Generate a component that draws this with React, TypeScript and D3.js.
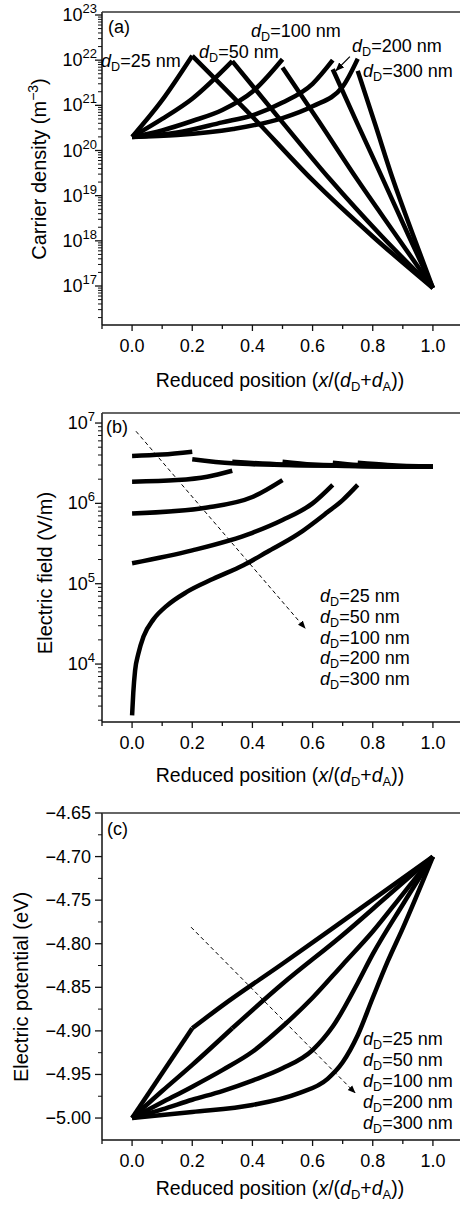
import React from 'react';
import * as d3 from 'd3';

// ---------- shared x axis ----------
const xDomain = [-0.1, 1.1];
const xMajorTicks = [0, 0.2, 0.4, 0.6, 0.8, 1.0];
const xMinorTicks = [-0.1, 0.1, 0.3, 0.5, 0.7, 0.9, 1.1];
const thicknesses = ['25', '50', '100', '200', '300'];

// ---------- (a) carrier density (m^-3) ----------
const densityDomain = [1.37e16, 1.165e23];
const densityDecades = [17, 18, 19, 20, 21, 22, 23];
const densAsc25 = [[0, 2.0e20], [0.1, 1.3e21], [0.2, 1.25e22]];
const densDesc25 = [[0.2, 1.25e22], [0.4, 5.6e20], [0.6, 2.2e19], [0.8, 1.25e18], [1.0, 9e16]];
const densAsc50 = [[0, 2.0e20], [0.1, 5.0e20], [0.2, 1.4e21], [0.333, 9.5e21]];
const densDesc50 = [[0.333, 9.5e21], [0.5, 4.2e20], [0.658, 2.3e19], [0.83, 1.26e18], [1.0, 9e16]];
const densAsc100 = [[0, 2.0e20], [0.1, 2.8e20], [0.2, 4.5e20], [0.3, 7.9e20], [0.4, 2.0e21], [0.5, 1.05e22]];
const densDesc100 = [[0.5, 6.9e21], [0.62, 4.5e20], [0.748, 2.3e19], [0.875, 1.4e18], [1.0, 9e16]];
const densAsc200 = [[0, 2.0e20], [0.15, 2.5e20], [0.3, 4.2e20], [0.4, 6.0e20], [0.5, 1.15e21], [0.6, 3.0e21], [0.667, 1.0e22]];
const densDesc200 = [[0.667, 6.3e21], [0.75, 3.8e20], [0.834, 2.3e19], [0.917, 1.4e18], [1.0, 9e16]];
const densAsc300 = [[0, 2.0e20], [0.15, 2.2e20], [0.336, 3.0e20], [0.5, 5.2e20], [0.6, 9.5e20], [0.7, 2.6e21], [0.75, 1.07e22]];
const densDesc300 = [[0.75, 5.8e21], [0.808, 3.8e20], [0.867, 2.3e19], [0.933, 1.4e18], [1.0, 9e16]];
const densArrow = [[0.724, 1.2e22], [0.678, 5.9e21]];

// ---------- (b) electric field (V/m) ----------
const fieldDomain = [1.9e3, 1.333e7];
const fieldDecades = [4, 5, 6, 7];
const fieldDon25 = [[0, 3.9e6], [0.1, 4.05e6], [0.2, 4.4e6]];
const fieldAcc25 = [[0.2, 3.55e6], [0.333, 3.15e6], [0.5, 3.0e6], [0.667, 2.95e6], [1.0, 2.85e6]];
const fieldDon50 = [[0, 1.86e6], [0.15, 1.95e6], [0.25, 2.15e6], [0.333, 2.55e6]];
const fieldAcc50 = [[0.333, 3.3e6], [0.5, 3.05e6], [1.0, 2.85e6]];
const fieldDon100 = [[0, 7.5e5], [0.25, 8.9e5], [0.4, 1.2e6], [0.5, 1.95e6]];
const fieldAcc100 = [[0.5, 3.3e6], [0.6, 3.05e6], [1.0, 2.85e6]];
const fieldDon200 = [[0, 1.8e5], [0.2, 2.6e5], [0.4, 4.3e5], [0.5, 6.2e5], [0.6, 1.0e6], [0.667, 1.7e6]];
const fieldAcc200 = [[0.667, 3.2e6], [0.75, 3.0e6], [1.0, 2.85e6]];
const fieldDon300 = [[0, 2.3e3], [0.004, 4.4e3], [0.01, 8.3e3], [0.021, 1.35e4], [0.038, 2.2e4], [0.071, 3.6e4], [0.115, 5.3e4], [0.182, 7.9e4], [0.27, 1.15e5], [0.37, 1.7e5], [0.45, 2.5e5], [0.55, 4.1e5], [0.65, 7.8e5], [0.7, 1.1e6], [0.75, 1.7e6]];
const fieldAcc300 = [[0.75, 3.2e6], [0.85, 3.0e6], [1.0, 2.85e6]];
const fieldArrow = [[0.013, 7.9e6], [0.575, 2.8e4]];

// ---------- (c) electric potential (eV) ----------
const potentialDomain = [-5.0252, -4.65];
const potentialTicks = [-4.65, -4.7, -4.75, -4.8, -4.85, -4.9, -4.95, -5.0];
const potentialMinor = [-4.675, -4.725, -4.775, -4.825, -4.875, -4.925, -4.975];
const pot25a = [[0, -5.0], [0.2, -4.897]];
const pot25b = [[0.2, -4.897], [0.3, -4.871], [0.5, -4.823], [0.7, -4.774], [1.0, -4.7]];
const pot50a = [[0, -5.0], [0.1, -4.969], [0.2, -4.939], [0.333, -4.897]];
const pot50b = [[0.333, -4.897], [0.5, -4.846], [0.7, -4.79], [0.85, -4.745], [1.0, -4.7]];
const pot100 = [[0, -5.0], [0.1, -4.982], [0.2, -4.964], [0.3, -4.945], [0.4, -4.924], [0.5, -4.895], [0.6, -4.862], [0.7, -4.824], [0.8, -4.786], [0.9, -4.743], [1.0, -4.7]];
const pot200 = [[0, -5.0], [0.1, -4.99], [0.2, -4.979], [0.3, -4.969], [0.4, -4.957], [0.5, -4.943], [0.6, -4.922], [0.667, -4.895], [0.75, -4.845], [0.8, -4.812], [0.9, -4.755], [1.0, -4.7]];
const pot300 = [[0, -5.0], [0.2, -4.993], [0.4, -4.985], [0.55, -4.972], [0.65, -4.955], [0.7, -4.936], [0.75, -4.905], [0.8, -4.862], [0.85, -4.82], [0.9, -4.782], [1.0, -4.7]];
const potArrow = [[0.196, -4.781], [0.741, -4.971]];

const FONT = "'Liberation Sans', Arial, Helvetica, sans-serif";
const X0 = 102, X1 = 463;

function logMinors(domain: number[]) {
  const out: number[] = [];
  const lo = Math.floor(Math.log10(domain[0]));
  const hi = Math.ceil(Math.log10(domain[1]));
  for (let k = lo; k < hi; k++) {
    for (let m = 2; m <= 9; m++) {
      const v = m * Math.pow(10, k);
      if (v >= domain[0] && v <= domain[1]) out.push(v);
    }
  }
  return out;
}

function DLabel({ x, y, t, size = 18 }: { x: number; y: number; t: string; size?: number }) {
  return (
    <text x={x} y={y} fontSize={size} fontFamily={FONT} fill="#000">
      <tspan fontStyle="italic">d</tspan>
      <tspan fontSize={size * 0.7} dy={4}>D</tspan>
      <tspan dy={-4}>{`=${t} nm`}</tspan>
    </text>
  );
}

function XAxis({ x, yBottom, yTop, titleOffset }: { x: any; yBottom: number; yTop: number; titleOffset: number }) {
  return (
    <g>
      <line x1={X0} x2={X1} y1={yBottom} y2={yBottom} stroke="#111" strokeWidth={1.5} />
      <line x1={X0} x2={X1} y1={yTop} y2={yTop} stroke="#333" strokeWidth={1.5} />
      <line x1={X1} x2={X1} y1={yTop} y2={yBottom} stroke="#333" strokeWidth={1.5} />
      {xMajorTicks.map((t) => (
        <g key={'M' + t}>
          <line x1={x(t)} x2={x(t)} y1={yBottom} y2={yBottom + 6} stroke="#111" strokeWidth={1.3} />
          <text x={x(t)} y={yBottom + 27} textAnchor="middle" fontSize={18} fontFamily={FONT} fill="#000">
            {t.toFixed(1)}
          </text>
        </g>
      ))}
      {xMinorTicks.map((t) => (
        <line key={'m' + t} x1={x(t)} x2={x(t)} y1={yBottom} y2={yBottom + 4} stroke="#111" strokeWidth={1.3} />
      ))}
      <text x={280} y={yBottom + titleOffset} textAnchor="middle" fontSize={19.5} fontFamily={FONT} fill="#000">
        Reduced position (<tspan fontStyle="italic">x</tspan>/(<tspan fontStyle="italic">d</tspan>
        <tspan fontSize={13} dy={4}>D</tspan>
        <tspan dy={-4}>+</tspan>
        <tspan fontStyle="italic">d</tspan>
        <tspan fontSize={13} dy={4}>A</tspan>
        <tspan dy={-4}>))</tspan>
      </text>
    </g>
  );
}

function LeftSpine({ yTop, yBottom }: { yTop: number; yBottom: number }) {
  return <line x1={X0} x2={X0} y1={yTop} y2={yBottom} stroke="#111" strokeWidth={1.5} />;
}

function LogYAxis({ y, decades, domain, labelX }: { y: any; decades: number[]; domain: number[]; labelX: number }) {
  return (
    <g>
      {decades.map((k) => (
        <g key={'d' + k}>
          <line x1={X0 - 7} x2={X0} y1={y(Math.pow(10, k))} y2={y(Math.pow(10, k))} stroke="#111" strokeWidth={1.3} />
          <text x={labelX} y={y(Math.pow(10, k)) + 6} textAnchor="end" fontSize={18} fontFamily={FONT} fill="#000">
            10<tspan fontSize={13} dy={-8}>{k}</tspan>
          </text>
        </g>
      ))}
      {logMinors(domain).map((v, i) => (
        <line key={'n' + i} x1={X0 - 4} x2={X0} y1={y(v)} y2={y(v)} stroke="#111" strokeWidth={1} />
      ))}
    </g>
  );
}

export default function App() {
  const x = d3.scaleLinear().domain(xDomain).range([X0, X1]);

  const yA = d3.scaleLog().domain(densityDomain).range([325, 12]);
  const yB = d3.scaleLog().domain(fieldDomain).range([722, 413]);
  const yC = d3.scaleLinear().domain(potentialDomain).range([1140, 813]);

  const mk = (ys: any) =>
    d3
      .line<number[]>()
      .x((d) => x(d[0]))
      .y((d) => ys(d[1]))
      .curve(d3.curveMonotoneX);
  const lineA = mk(yA);
  const lineB = mk(yB);
  const lineC = mk(yC);
  const straight = (ys: any) =>
    d3
      .line<number[]>()
      .x((d) => x(d[0]))
      .y((d) => ys(d[1]));

  const seriesA = [densAsc25, densDesc25, densAsc50, densDesc50, densAsc100, densDesc100, densAsc200, densDesc200, densAsc300, densDesc300];
  const seriesB = [fieldDon25, fieldAcc25, fieldDon50, fieldAcc50, fieldDon100, fieldAcc100, fieldDon200, fieldAcc200, fieldDon300, fieldAcc300];
  const seriesC = [pot25a, pot25b, pot50a, pot50b, pot100, pot200, pot300];

  const lw = 4.5;

  return (
    <svg
      width={460}
      height={1205}
      viewBox="0 0 460 1205"
      style={{ position: 'absolute', left: 0, top: 0, background: '#fff' }}
    >
      <defs>
        <marker id="ah" viewBox="0 0 10 10" refX="9" refY="5" markerWidth="9" markerHeight="9" markerUnits="userSpaceOnUse" orient="auto">
          <path d="M0,1 L10,5 L0,9 Z" fill="#000" />
        </marker>
        <marker id="ah2" viewBox="0 0 10 10" refX="9" refY="5" markerWidth="8" markerHeight="8" markerUnits="userSpaceOnUse" orient="auto">
          <path d="M0,1 L10,5 L0,9 Z" fill="#000" />
        </marker>
      </defs>
      <rect x={0} y={0} width={460} height={1205} fill="#fff" />

      {/* ---------------- (a) ---------------- */}
      <g>
        {seriesA.map((s, i) => (
          <path key={'a' + i} d={lineA(s as any) || ''} fill="none" stroke="#000" strokeWidth={lw} strokeLinejoin="round" />
        ))}
        <LeftSpine yTop={12} yBottom={325} />
        <LogYAxis y={yA} decades={densityDecades} domain={densityDomain} labelX={97} />
        <XAxis x={x} yBottom={325} yTop={12} titleOffset={62} />
        <text x={108} y={33} fontSize={18} fontFamily={FONT}>(a)</text>
        <DLabel x={101} y={67} t={thicknesses[0]} />
        <DLabel x={199} y={58} t={thicknesses[1]} />
        <DLabel x={251} y={37} t={thicknesses[2]} />
        <DLabel x={352} y={52} t={thicknesses[3]} />
        <DLabel x={363} y={77} t={thicknesses[4]} />
        <path d={straight(yA)(densArrow as any) || ''} stroke="#000" strokeWidth={1.2} fill="none" markerEnd="url(#ah)" />
        <text
          transform={`translate(46,169) rotate(-90)`}
          textAnchor="middle"
          fontSize={20}
          fontFamily={FONT}
        >
          Carrier density (m<tspan fontSize={14} dy={-8}>−3</tspan>
          <tspan dy={8}>)</tspan>
        </text>
      </g>

      {/* ---------------- (b) ---------------- */}
      <g>
        {seriesB.map((s, i) => (
          <path key={'b' + i} d={lineB(s as any) || ''} fill="none" stroke="#000" strokeWidth={lw} strokeLinejoin="round" />
        ))}
        <LeftSpine yTop={413} yBottom={722} />
        <LogYAxis y={yB} decades={fieldDecades} domain={fieldDomain} labelX={95} />
        <XAxis x={x} yBottom={722} yTop={413} titleOffset={60} />
        <text x={106} y={433} fontSize={18} fontFamily={FONT}>(b)</text>
        <path
          d={straight(yB)(fieldArrow as any) || ''}
          stroke="#000"
          strokeWidth={1}
          strokeDasharray="4 3"
          fill="none"
          markerEnd="url(#ah2)"
        />
        {thicknesses.map((t, i) => (
          <DLabel key={'lb' + t} x={320} y={602 + i * 20.8} t={t} />
        ))}
        <text transform={`translate(52,573) rotate(-90)`} textAnchor="middle" fontSize={20} fontFamily={FONT}>
          Electric field (V/m)
        </text>
      </g>

      {/* ---------------- (c) ---------------- */}
      <g>
        {seriesC.map((s, i) => (
          <path key={'c' + i} d={lineC(s as any) || ''} fill="none" stroke="#000" strokeWidth={lw} strokeLinejoin="round" />
        ))}
        <LeftSpine yTop={813} yBottom={1140} />
        {potentialTicks.map((t) => (
          <g key={'pt' + t}>
            <line x1={X0 - 7} x2={X0} y1={yC(t)} y2={yC(t)} stroke="#111" strokeWidth={1.3} />
            <text x={91} y={yC(t) + 6} textAnchor="end" fontSize={18} fontFamily={FONT}>
              {'−' + Math.abs(t).toFixed(2)}
            </text>
          </g>
        ))}
        {potentialMinor.map((t) => (
          <line key={'pm' + t} x1={X0 - 4} x2={X0} y1={yC(t)} y2={yC(t)} stroke="#111" strokeWidth={1} />
        ))}
        <XAxis x={x} yBottom={1140} yTop={813} titleOffset={55} />
        <text x={107} y={835} fontSize={18} fontFamily={FONT}>(c)</text>
        <path
          d={straight(yC)(potArrow as any) || ''}
          stroke="#000"
          strokeWidth={1}
          strokeDasharray="4 3"
          fill="none"
          markerEnd="url(#ah2)"
        />
        {thicknesses.map((t, i) => (
          <DLabel key={'lc' + t} x={363} y={1045 + i * 21} t={t} />
        ))}
        <text transform={`translate(28,987) rotate(-90)`} textAnchor="middle" fontSize={20} fontFamily={FONT}>
          Electric potential (eV)
        </text>
      </g>
    </svg>
  );
}
